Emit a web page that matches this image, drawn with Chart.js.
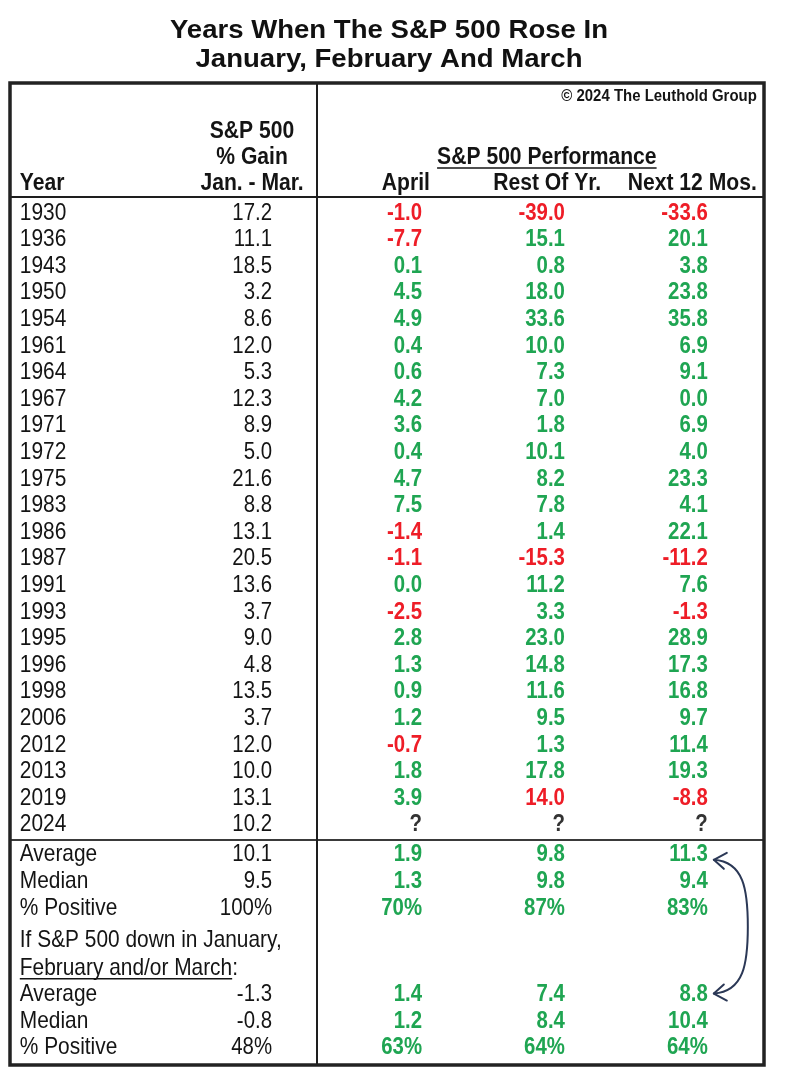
<!DOCTYPE html>
<html>
<head>
<meta charset="utf-8">
<script src="https://cdn.jsdelivr.net/npm/chart.js@4.4.1/dist/chart.umd.min.js"></script>
<style>
  html, body { margin: 0; padding: 0; background: #fff; }
  #wrap { width: 790px; height: 1090px; }
</style>
</head>
<body>
<div id="wrap"><canvas id="tbl"></canvas></div>
<script>
// ── Data ───────────────────────────────────────────────────────────────────

const YEARS = [1930, 1936, 1943, 1950, 1954, 1961, 1964, 1967, 1971, 1972, 1975, 1983,
               1986, 1987, 1991, 1993, 1995, 1996, 1998, 2006, 2012, 2013, 2019, 2024];
const GAIN_JAN_MAR = [17.2, 11.1, 18.5, 3.2, 8.6, 12.0, 5.3, 12.3, 8.9, 5.0, 21.6, 8.8,
                      13.1, 20.5, 13.6, 3.7, 9.0, 4.8, 13.5, 3.7, 12.0, 10.0, 13.1, 10.2];
const APRIL = [-1.0, -7.7, 0.1, 4.5, 4.9, 0.4, 0.6, 4.2, 3.6, 0.4, 4.7, 7.5,
               -1.4, -1.1, 0.0, -2.5, 2.8, 1.3, 0.9, 1.2, -0.7, 1.8, 3.9, null];
const REST_OF_YEAR = [-39.0, 15.1, 0.8, 18.0, 33.6, 10.0, 7.3, 7.0, 1.8, 10.1, 8.2, 7.8,
                      1.4, -15.3, 11.2, 3.3, 23.0, 14.8, 11.6, 9.5, 1.3, 17.8, 14.0, null];
const NEXT_12_MOS = [-33.6, 20.1, 3.8, 23.8, 35.8, 6.9, 9.1, 0.0, 6.9, 4.0, 23.3, 4.1,
                     22.1, -11.2, 7.6, -1.3, 28.9, 17.3, 16.8, 9.7, 11.4, 19.3, -8.8, null];

// cells printed in red in the source although positive
const RED_CELLS = [{ column: "rest", year: 2019 }];

const SUMMARY_LABELS = ["Average", "Median", "% Positive"];
const UP_GAIN  = [10.1, 9.5, 100];
const UP_APRIL = [1.9, 1.3, 70];
const UP_REST  = [9.8, 9.8, 87];
const UP_NEXT  = [11.3, 9.4, 83];
const DOWN_GAIN  = [-1.3, -0.8, 48];
const DOWN_APRIL = [1.4, 1.2, 63];
const DOWN_REST  = [7.4, 8.4, 64];
const DOWN_NEXT  = [8.8, 10.4, 64];

const TITLE = ["Years When The S&P 500 Rose In", "January, February And March"];
const COPYRIGHT = "© 2024 The Leuthold Group";
const DOWN_NOTE = ["If S&P 500 down in January,", "February and/or March"];

// ── Layout & style ─────────────────────────────────────────────────────────

const FAMILY = "'Liberation Sans', Arial, sans-serif";
const NARROW = 0.85;          // horizontal squeeze, Arial Narrow look
const NARROW_HEAD = 0.88;
const GREEN = "#1fa552";
const RED = "#ee1d27";
const INK = "#141414";

// x anchors in % of table width, y in row slots (row 0 = first year)
const COL = { year: 1.3, gain: 34.75, gainHead: 32.1, divider: 40.7,
              april: 54.65, rest: 73.6, next: 92.55,
              aprilHead: 55.7, restHead: 78.4, nextHead: 99.05, perfHead: 71.2 };
const SLOT = { top: -4.887, bottom: 32.03, copyright: -4.4, head1: -3.08, head2: -2.1,
               head3: -1.12, headLine: -0.6, summaryLine: 23.57,
               upStart: 24.13, noteStart: 27.35, downStart: 29.38 };

// ── Helpers ────────────────────────────────────────────────────────────────

function fmt(v, pct) {
  if (v === null) return "?";
  return pct ? v + "%" : v.toFixed(1);
}

function perfColor(v, column, year) {
  if (v === null) return "#333";
  if (RED_CELLS.some(c => c.column === column && c.year === year)) return RED;
  return v < 0 ? RED : GREEN;
}

function column(values, upVals, downVals, key, opts) {
  const pts = values.map((v, i) => ({
    x: COL[key], y: i, text: fmt(v),
    color: opts.colored ? perfColor(v, key, YEARS[i]) : INK,
  }));
  const summ = (vals, start) => vals.forEach((v, k) => pts.push({
    x: COL[key], y: start + k, text: fmt(v, k === 2),
    color: opts.colored ? GREEN : INK,
  }));
  summ(upVals, SLOT.upStart);
  summ(downVals, SLOT.downStart);
  return { data: pts, align: "right", weight: opts.weight || "normal", size: 24 };
}

// draw horizontally scaled text; returns the left edge and drawn width
function narrowText(ctx, text, x, y, align, sx = NARROW) {
  const w = ctx.measureText(text).width * sx;
  const left = align === "left" ? x : align === "right" ? x - w : x - w / 2;
  ctx.save();
  ctx.translate(left, y);
  ctx.scale(sx, 1);
  ctx.textAlign = "left";
  ctx.fillText(text, 0, 0);
  ctx.restore();
  return { left, w };
}

// ── Datasets ───────────────────────────────────────────────────────────────

const yearCol = {
  data: YEARS.map((y, i) => ({ x: COL.year, y: i, text: String(y) }))
    .concat(SUMMARY_LABELS.map((t, k) => ({ x: COL.year, y: SLOT.upStart + k, text: t })))
    .concat(DOWN_NOTE.map((t, k) => ({ x: COL.year, y: SLOT.noteStart + k * 1.03, text: t,
                                       underline: k === 1, suffix: k === 1 ? ":" : "" })))
    .concat(SUMMARY_LABELS.map((t, k) => ({ x: COL.year, y: SLOT.downStart + k, text: t }))),
  align: "left", weight: "normal", size: 24, squeeze: 0.87,
};

const gainCol  = column(GAIN_JAN_MAR, UP_GAIN, DOWN_GAIN, "gain", {});
const aprilCol = column(APRIL, UP_APRIL, DOWN_APRIL, "april", { colored: true, weight: "bold" });
const restCol  = column(REST_OF_YEAR, UP_REST, DOWN_REST, "rest", { colored: true, weight: "bold" });
const nextCol  = column(NEXT_12_MOS, UP_NEXT, DOWN_NEXT, "next", { colored: true, weight: "bold" });

const headCenter = {
  data: [
    { x: COL.gainHead, y: SLOT.head1, text: "S&P 500" },
    { x: COL.gainHead, y: SLOT.head2, text: "% Gain" },
    { x: COL.gainHead, y: SLOT.head3, text: "Jan. - Mar." },
    { x: COL.perfHead, y: SLOT.head2, text: "S&P 500 Performance", underline: true },
  ],
  align: "center", weight: "bold", size: 24, squeeze: NARROW_HEAD,
};
const headRight = {
  data: [
    { x: COL.aprilHead, y: SLOT.head3, text: "April" },
    { x: COL.restHead, y: SLOT.head3, text: "Rest Of Yr." },
    { x: COL.nextHead, y: SLOT.head3, text: "Next 12 Mos." },
  ],
  align: "right", weight: "bold", size: 24, squeeze: NARROW_HEAD,
};
const headLeft = {
  data: [{ x: COL.year, y: SLOT.head3, text: "Year" }],
  align: "left", weight: "bold", size: 24, squeeze: NARROW_HEAD,
};
const copyright = {
  data: [{ x: COL.nextHead, y: SLOT.copyright, text: COPYRIGHT }],
  align: "right", weight: "bold", size: 17, squeeze: NARROW_HEAD,
};

const DATASETS = [yearCol, gainCol, aprilCol, restCol, nextCol, headCenter, headRight, headLeft, copyright]
  .map(d => Object.assign({ pointRadius: 0, showLine: false }, d));

// ── Plugins ────────────────────────────────────────────────────────────────

const titleText = {
  id: "titleText",
  afterDraw(chart) {
    const { ctx, chartArea: a } = chart;
    ctx.save();
    ctx.fillStyle = "#111";
    ctx.font = `bold 26px ${FAMILY}`;
    ctx.textBaseline = "middle";
    const cx = (a.left + a.right) / 2 + 2;
    TITLE.forEach((line, i) => narrowText(ctx, line, cx, 31 + i * 28.5, "center", 1.06));
    ctx.restore();
  },
};

const gridLines = {
  id: "gridLines",
  beforeDatasetsDraw(chart) {
    const { ctx, chartArea: a, scales: { x, y } } = chart;
    ctx.save();
    ctx.strokeStyle = "#1e1e1e";
    ctx.lineWidth = 2;
    const hLine = slot => {
      const py = Math.round(y.getPixelForValue(slot));
      ctx.beginPath(); ctx.moveTo(a.left, py); ctx.lineTo(a.right, py); ctx.stroke();
    };
    hLine(SLOT.headLine);
    ctx.strokeStyle = "#3a3a3a";
    hLine(SLOT.summaryLine);
    ctx.strokeStyle = "#1e1e1e";
    const dx = Math.round(x.getPixelForValue(COL.divider));
    ctx.beginPath(); ctx.moveTo(dx, a.top); ctx.lineTo(dx, a.bottom); ctx.stroke();
    ctx.lineWidth = 3.5;
    ctx.strokeStyle = "#222";
    ctx.strokeRect(a.left, a.top, a.right - a.left, a.bottom - a.top);
    ctx.restore();
  },
};

const cellText = {
  id: "cellText",
  afterDatasetsDraw(chart) {
    const ctx = chart.ctx;
    ctx.save();
    ctx.textBaseline = "middle";
    chart.data.datasets.forEach((ds, di) => {
      const meta = chart.getDatasetMeta(di);
      const sx = ds.squeeze || NARROW;
      ctx.font = `${ds.weight} ${ds.size}px ${FAMILY}`;
      meta.data.forEach((el, i) => {
        const p = ds.data[i];
        ctx.fillStyle = p.color || INK;
        const { left, w } = narrowText(ctx, p.text, el.x, el.y, ds.align, sx);
        if (p.suffix) narrowText(ctx, p.suffix, left + w, el.y, "left", sx);
        if (p.underline) {
          ctx.strokeStyle = p.color || INK;
          ctx.lineWidth = 1.5;
          ctx.beginPath();
          ctx.moveTo(left, el.y + ds.size * 0.45);
          ctx.lineTo(left + w, el.y + ds.size * 0.45);
          ctx.stroke();
        }
      });
    });
    ctx.restore();
  },
};

// curved double arrow linking the two "Next 12 Mos." averages
const arrow = {
  id: "arrow",
  afterDatasetsDraw(chart) {
    const { ctx, scales: { x, y } } = chart;
    const tx = x.getPixelForValue(COL.next) + 6;
    const yA = y.getPixelForValue(SLOT.upStart) + 5;
    const yB = y.getPixelForValue(SLOT.downStart) - 1;
    ctx.save();
    ctx.strokeStyle = "#2b3856";
    ctx.lineWidth = 2;
    ctx.lineCap = "round";
    ctx.lineJoin = "round";
    ctx.beginPath();
    ctx.moveTo(tx, yA);
    ctx.bezierCurveTo(tx + 30, yA + 2, tx + 34, yA + 30, tx + 34, (yA + yB) / 2);
    ctx.bezierCurveTo(tx + 34, yB - 30, tx + 30, yB - 2, tx, yB);
    ctx.stroke();
    const head = (ty, d) => {
      ctx.beginPath();
      ctx.moveTo(tx + 13, ty - 7 * d);
      ctx.lineTo(tx, ty);
      ctx.lineTo(tx + 10, ty + 9 * d);
      ctx.stroke();
    };
    head(yA, 1);
    head(yB, -1);
    ctx.restore();
  },
};

// ── Chart ──────────────────────────────────────────────────────────────────

new Chart(document.getElementById("tbl"), {
  type: "scatter",
  data: { datasets: DATASETS },
  options: {
    responsive: true,
    maintainAspectRatio: false,
    animation: false,
    events: [],
    layout: { padding: { left: 10, right: 26, top: 83, bottom: 25 } },
    plugins: {
      legend: { display: false },
      tooltip: { enabled: false },
      title: { display: false },
    },
    scales: {
      x: { type: "linear", min: 0, max: 100, display: false },
      y: { type: "linear", min: SLOT.top, max: SLOT.bottom, reverse: true, display: false },
    },
  },
  plugins: [gridLines, cellText, arrow, titleText],
});
</script>
</body>
</html>
